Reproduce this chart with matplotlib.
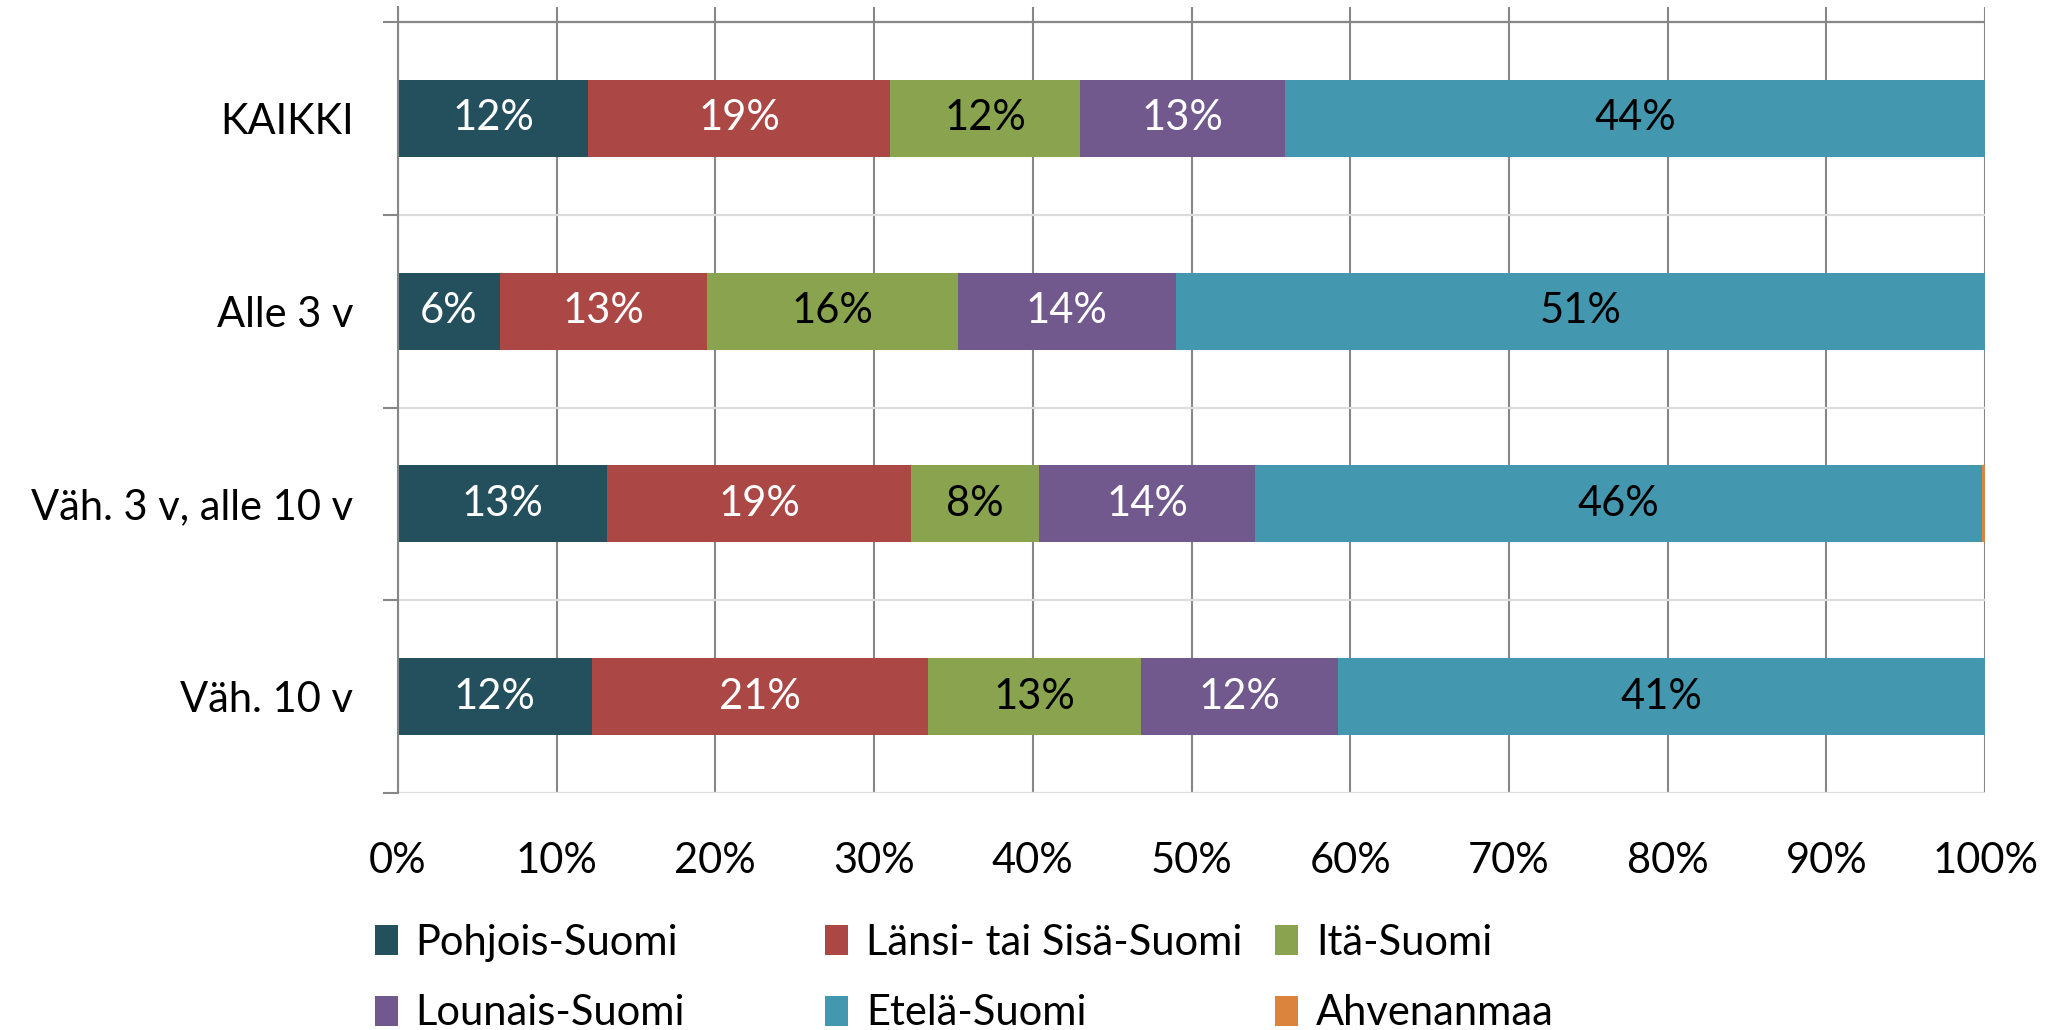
"""
Stacked 100% bar chart: distribution of respondents by region, per experience group.
Output: out.png
"""

import matplotlib
matplotlib.use("Agg")
import matplotlib.pyplot as plt
from matplotlib.patches import Patch
import numpy as np

plt.rcParams["font.family"] = ["Lato", "DejaVu Sans"]

CATEGORIES = ["KAIKKI", "Alle 3 v", "Väh. 3 v, alle 10 v", "Väh. 10 v"]

# shares in %, one list per region, in CATEGORIES order
POHJOIS   = [12.0, 6.4, 13.2, 12.2]
LANSI     = [19.0, 13.1, 19.1, 21.2]
ITA       = [12.0, 15.8, 8.1, 13.4]
LOUNAIS   = [12.9, 13.7, 13.6, 12.4]
ETELA     = [44.1, 51.0, 45.8, 40.8]
AHVENANMAA = [0.0, 0.0, 0.2, 0.0]

SERIES = [
    ("Pohjois-Suomi",         POHJOIS,    "#244F5D", "white"),
    ("Länsi- tai Sisä-Suomi", LANSI,      "#AB4745", "white"),
    ("Itä-Suomi",             ITA,        "#89A34E", "black"),
    ("Lounais-Suomi",         LOUNAIS,    "#71588D", "white"),
    ("Etelä-Suomi",           ETELA,      "#4397AF", "black"),
    ("Ahvenanmaa",            AHVENANMAA, "#DB843D", None),
]

XTICKS = np.arange(0, 101, 10)
FS = 30


def make_plot():
    fig = plt.figure(figsize=(20.65, 10.30), dpi=100)
    ax = fig.add_axes([0.1927, 0.2301, 0.9613 - 0.1927, 0.9932 - 0.2301])

    y = np.arange(len(CATEGORIES))
    left = np.zeros(len(CATEGORIES))
    for name, vals, color, txt in SERIES:
        vals = np.array(vals)
        ax.barh(y, vals, 0.4, left=left, color=color, label=name, zorder=3)
        if txt is not None:
            for yi, (l, v) in enumerate(zip(left, vals)):
                if v > 0:
                    ax.text(l + v / 2, yi, f"{v:.0f}%", ha="center", va="center",
                            color=txt, fontsize=FS, zorder=4)
        left += vals

    ax.set_xlim(0, 100)
    ax.set_ylim(len(CATEGORIES) - 0.5, -0.578)

    # gridlines
    ax.set_xticks(XTICKS)
    ax.set_xticklabels([f"{t}%" for t in XTICKS], fontsize=FS)
    ax.xaxis.grid(True, color="#878787", linewidth=1.5, zorder=1)
    bounds = np.arange(len(CATEGORIES) + 1) - 0.5
    for b in bounds:
        ax.axhline(b, color="#878787" if b < 0 else "#DCDCDC", linewidth=1.6, zorder=2)

    ax.set_yticks(y)
    ax.set_yticklabels(CATEGORIES, fontsize=FS)
    ax.set_yticks(bounds, minor=True)
    ax.tick_params(axis="y", which="major", length=0, pad=32)
    ax.tick_params(axis="y", which="minor", length=11, width=1.5, color="#878787")
    ax.tick_params(axis="x", length=0, pad=35)

    for s in ("top", "right", "bottom"):
        ax.spines[s].set_visible(False)
    ax.spines["left"].set_color("#878787")
    ax.spines["left"].set_linewidth(1.5)
    ax.spines["left"].set_zorder(5)

    # legend: three fixed-width columns, two rows
    handles = {name: Patch(facecolor=color) for name, _, color, _ in SERIES}
    names = [s[0] for s in SERIES]
    col_x = [0.1815, 0.3995, 0.6175]
    for i, cx in enumerate(col_x):
        col = [names[i], names[i + 3]]
        fig.legend([handles[n] for n in col], col, loc="upper left",
                   bbox_to_anchor=(cx, 0.103), frameon=False, fontsize=FS,
                   handlelength=0.56, handleheight=0.72, handletextpad=0.42,
                   labelspacing=0.78, borderpad=0, borderaxespad=0)

    fig.savefig("out.png", dpi=100)


if __name__ == "__main__":
    make_plot()
